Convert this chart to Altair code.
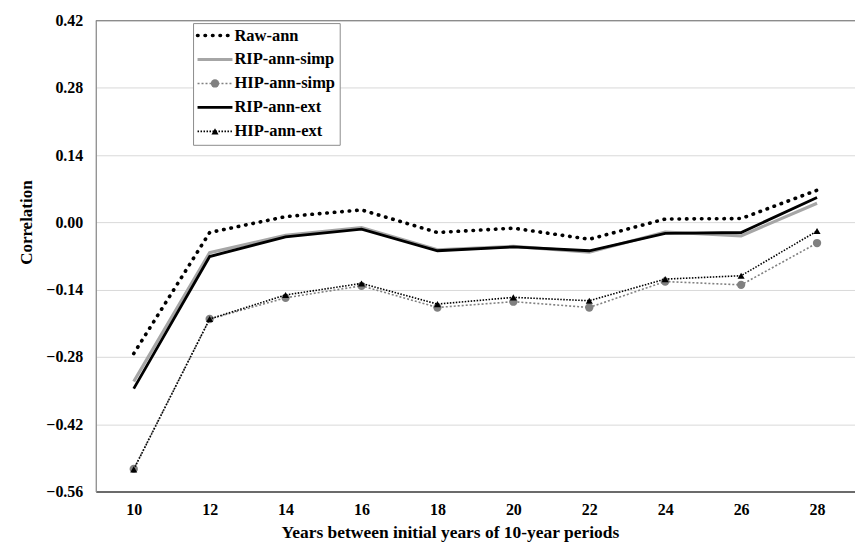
import altair as alt
import pandas as pd

years = [10, 12, 14, 16, 18, 20, 22, 24, 26, 28]
raw_ann = [-0.273, -0.021, 0.012, 0.026, -0.021, -0.012, -0.035, 0.007, 0.008, 0.067]
rip_simp = [-0.331, -0.063, -0.027, -0.011, -0.057, -0.050, -0.062, -0.020, -0.028, 0.040]
hip_simp = [-0.513, -0.201, -0.157, -0.132, -0.177, -0.165, -0.177, -0.123, -0.130, -0.043]
rip_ext = [-0.346, -0.071, -0.030, -0.014, -0.059, -0.051, -0.059, -0.023, -0.021, 0.052]
hip_ext = [-0.514, -0.201, -0.151, -0.127, -0.170, -0.156, -0.163, -0.118, -0.111, -0.018]

series_names = ["Raw-ann", "RIP-ann-simp", "HIP-ann-simp", "RIP-ann-ext", "HIP-ann-ext"]
y_ticks = [-0.56, -0.42, -0.28, -0.14, 0.0, 0.14, 0.28, 0.42]

def frame(vals):
    return pd.DataFrame({"years": years, "corr": vals})

FONT = "Liberation Serif"

xenc = alt.X("years:Q", scale=alt.Scale(domain=[9, 29], nice=False, zero=False),
             axis=alt.Axis(values=years, format="d", grid=False, ticks=False,
                           labelFont=FONT, labelFontWeight="bold", labelFontSize=16,
                           labelColor="#000", labelPadding=10,
                           domainColor="#404040", domainWidth=1.3,
                           title="Years between initial years of 10-year periods",
                           titleFont=FONT, titleFontWeight="bold", titleFontSize=17.5,
                           titleColor="#000", titleX=355, titleY=41, titleBaseline="middle",
                           titleAnchor="start", titleAlign="center"))
yenc = alt.Y("corr:Q", scale=alt.Scale(domain=[-0.56, 0.42], nice=False, zero=False),
             axis=alt.Axis(values=y_ticks, format=".2f", grid=True, gridColor="#d9d9d9",
                           gridWidth=1, ticks=False,
                           labelFont=FONT, labelFontWeight="bold", labelFontSize=16,
                           labelColor="#000", labelPadding=13,
                           domainColor="#8c8c8c", domainWidth=1.3,
                           title="Correlation", titleFont=FONT, titleFontWeight="bold",
                           titleFontSize=17, titleColor="#000", titleAngle=270,
                           titleX=-69, titleY=202, titleBaseline="middle", titleAlign="center"))

top_rule = alt.Chart(pd.DataFrame({"a": [0]})).mark_rule(
    color="#8c8c8c", strokeWidth=1.3
).encode(x=alt.value(0), x2=alt.value(761), y=alt.value(0))

raw_line = alt.Chart(frame(raw_ann)).mark_line(
    color="#000", strokeWidth=3.6, strokeDash=[0.5, 7], strokeCap="round"
).encode(x=xenc, y=yenc)

rip_simp_line = alt.Chart(frame(rip_simp)).mark_line(
    color="#a6a6a6", strokeWidth=3.2
).encode(x=xenc, y=yenc)

hip_simp_line = alt.Chart(frame(hip_simp)).mark_line(
    color="#808080", strokeWidth=1.6, strokeDash=[2, 2]
).encode(x=xenc, y=yenc)
hip_simp_pts = alt.Chart(frame(hip_simp)).mark_point(
    shape="circle", filled=True, color="#808080", size=70, opacity=1
).encode(x=xenc, y=yenc)

rip_ext_line = alt.Chart(frame(rip_ext)).mark_line(
    color="#000", strokeWidth=2.8
).encode(x=xenc, y=yenc)

hip_ext_line = alt.Chart(frame(hip_ext)).mark_line(
    color="#000", strokeWidth=1.6, strokeDash=[1.5, 1.5]
).encode(x=xenc, y=yenc)
hip_ext_pts = alt.Chart(frame(hip_ext)).mark_point(
    shape="triangle-up", filled=True, color="#000", size=50, opacity=1
).encode(x=xenc, y=yenc)

# ---- legend (drawn manually) ----
leg_rows = [15, 39, 63, 87, 111]  # pixel offsets from plot top
leg_df = pd.DataFrame({"name": series_names, "py": leg_rows})

box = alt.Chart(pd.DataFrame({"a": [0]})).mark_rect(
    fill="white", stroke="#8c8c8c", strokeWidth=1
).encode(x=alt.value(98), x2=alt.value(245), y=alt.value(3), y2=alt.value(125))

def leg_line(i, **kw):
    d = leg_df.iloc[[i]]
    return alt.Chart(d).mark_rule(**kw).encode(
        x=alt.value(102), x2=alt.value(137),
        y=alt.Y("py:Q", scale=None))

leg_raw = leg_line(0, color="#000", strokeWidth=3.6, strokeDash=[0.5, 7], strokeCap="round")
leg_rs = leg_line(1, color="#a6a6a6", strokeWidth=3.2)
leg_hs = leg_line(2, color="#808080", strokeWidth=1.6, strokeDash=[2, 2])
leg_re = leg_line(3, color="#000", strokeWidth=2.8)
leg_he = leg_line(4, color="#000", strokeWidth=1.6, strokeDash=[1.5, 1.5])

leg_hs_pt = alt.Chart(leg_df.iloc[[2]]).mark_point(
    shape="circle", filled=True, color="#808080", size=70, opacity=1
).encode(x=alt.value(119.5), y=alt.Y("py:Q", scale=None))
leg_he_pt = alt.Chart(leg_df.iloc[[4]]).mark_point(
    shape="triangle-up", filled=True, color="#000", size=50, opacity=1
).encode(x=alt.value(119.5), y=alt.Y("py:Q", scale=None))

leg_text = alt.Chart(leg_df).mark_text(
    align="left", baseline="middle", font=FONT, fontWeight="bold", fontSize=16.5, color="#000"
).encode(x=alt.value(139), y=alt.Y("py:Q", scale=None), text="name:N")

chart = alt.layer(
    top_rule, raw_line, rip_simp_line, hip_simp_line, hip_simp_pts, rip_ext_line,
    hip_ext_line, hip_ext_pts,
    box, leg_raw, leg_rs, leg_hs, leg_re, leg_he, leg_hs_pt, leg_he_pt, leg_text
).properties(
    width=761, height=472,
    autosize=alt.AutoSizeParams(type="none"),
    padding={"left": 96, "top": 20, "right": 0, "bottom": 57},
    background="white"
).configure_view(strokeWidth=0)

chart.save("out.html", embed_options={"renderer": "svg", "actions": False})
